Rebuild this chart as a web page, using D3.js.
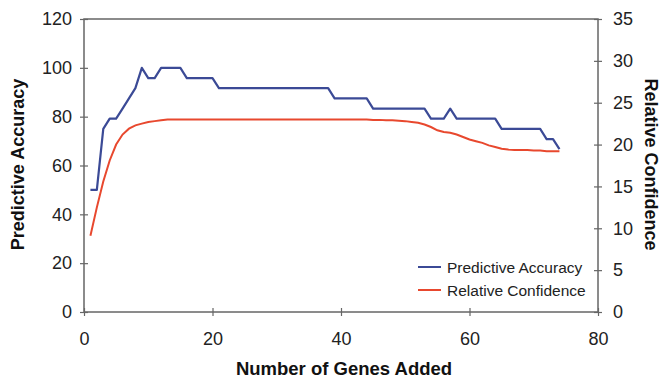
<!DOCTYPE html>
<html>
<head>
<meta charset="utf-8">
<script src="https://cdn.jsdelivr.net/npm/d3@7"></script>
<style>
  body { margin: 0; background: #fff; }
  svg { font-family: "Liberation Sans", Arial, sans-serif; }
</style>
</head>
<body>
<div id="chart"></div>
<script>
// data
var genes = [1,2,3,4,5,6,7,8,9,10,11,12,13,14,15,16,17,18,19,20,21,22,23,24,25,26,27,28,29,30,31,32,33,34,35,36,37,38,39,40,41,42,43,44,45,46,47,48,49,50,51,52,53,54,55,56,57,58,59,60,61,62,63,64,65,66,67,68,69,70,71,72,73,74];

var accuracy = [50,50,75,79.2,79.2,83.3,87.5,91.7,100,95.8,95.8,100,100,100,100,95.8,95.8,95.8,95.8,95.8,
  91.7,91.7,91.7,91.7,91.7,91.7,91.7,91.7,91.7,91.7,91.7,91.7,91.7,91.7,91.7,91.7,91.7,91.7,
  87.5,87.5,87.5,87.5,87.5,87.5,
  83.3,83.3,83.3,83.3,83.3,83.3,83.3,83.3,83.3,
  79.2,79.2,79.2,83.3,79.2,79.2,79.2,79.2,79.2,79.2,79.2,
  75,75,75,75,75,75,75,70.8,70.8,66.7];

var confidence = [9.1,12.5,15.6,18.1,20.0,21.2,21.9,22.3,22.5,22.7,22.8,22.9,
  23,23,23,23,23,23,23,23,23,23,23,23,23,23,23,23,23,23,23,23,23,23,23,23,23,23,23,23,23,23,23,23,
  22.95,22.95,22.9,22.9,22.85,22.8,22.7,22.6,22.4,22.1,21.7,21.5,21.4,21.2,20.9,20.6,20.4,20.2,19.9,19.7,
  19.5,19.4,19.35,19.35,19.35,19.3,19.3,19.2,19.2,19.2];

var xTicks = [0,20,40,60,80];
var leftTicks = [0,20,40,60,80,100,120];
var rightTicks = [0,5,10,15,20,25,30,35];
var seriesNames = ["Predictive Accuracy", "Relative Confidence"];

var width = 665, height = 380;
var margin = {left: 84, right: 67, top: 19, bottom: 68};
var blue = "#3b4a96", red = "#e8482e", axisCol = "#666";

var svg = d3.select("#chart").append("svg")
  .attr("width", width)
  .attr("height", height);

var x = d3.scaleLinear().domain([0, 80]).range([margin.left, width - margin.right]);
var yL = d3.scaleLinear().domain([0, 120]).range([height - margin.bottom, margin.top]);
var yR = d3.scaleLinear().domain([0, 35]).range([height - margin.bottom, margin.top]);

// frame
svg.append("rect")
  .attr("x", x(0)).attr("y", yL(120))
  .attr("width", x(80) - x(0)).attr("height", yL(0) - yL(120))
  .attr("fill", "none").attr("stroke", axisCol).attr("stroke-width", 1.5);

// axes
var xAxis = svg.append("g")
  .attr("transform", "translate(0," + yL(0) + ")")
  .call(d3.axisBottom(x).tickValues(xTicks).tickSize(4).tickPadding(16));
var leftAxis = svg.append("g")
  .attr("transform", "translate(" + x(0) + ",0)")
  .call(d3.axisLeft(yL).tickValues(leftTicks).tickSize(4).tickPadding(8));
var rightAxis = svg.append("g")
  .attr("transform", "translate(" + x(80) + ",0)")
  .call(d3.axisRight(yR).tickValues(rightTicks).tickSize(4).tickPadding(11));

[xAxis, leftAxis, rightAxis].forEach(function(a) {
  a.select(".domain").remove();
  a.selectAll(".tick line").attr("stroke", axisCol).attr("stroke-width", 1.2);
  a.selectAll(".tick text").attr("font-size", 18).attr("fill", "#222")
    .attr("font-family", "Liberation Sans, Arial, sans-serif");
});
// ticks cross the axis lines
xAxis.selectAll(".tick line").attr("y1", -4);
leftAxis.selectAll(".tick line").attr("x1", 4);
rightAxis.selectAll(".tick line").attr("x1", -4);

// lines
var lineL = d3.line().x(function(d, i) { return x(genes[i]); }).y(function(d) { return yL(d); });
var lineR = d3.line().x(function(d, i) { return x(genes[i]); }).y(function(d) { return yR(d); });

svg.append("path").datum(confidence)
  .attr("d", lineR).attr("fill", "none")
  .attr("stroke", red).attr("stroke-width", 2);
svg.append("path").datum(accuracy)
  .attr("d", lineL).attr("fill", "none")
  .attr("stroke", blue).attr("stroke-width", 2.2).attr("stroke-linejoin", "round");

// axis titles
svg.append("text")
  .attr("x", 344).attr("y", 375)
  .attr("text-anchor", "middle")
  .attr("font-size", 18.5).attr("font-weight", "bold").attr("fill", "#111")
  .text("Number of Genes Added");
svg.append("text")
  .attr("transform", "translate(24," + (yL(60) - 1) + ") rotate(-90)")
  .attr("text-anchor", "middle")
  .attr("font-size", 18).attr("font-weight", "bold").attr("fill", "#111")
  .text("Predictive Accuracy");
svg.append("text")
  .attr("transform", "translate(645," + (yL(60) - 1) + ") rotate(90)")
  .attr("text-anchor", "middle")
  .attr("font-size", 18).attr("font-weight", "bold").attr("fill", "#111")
  .text("Relative Confidence");

// legend
var legend = svg.selectAll(".legend").data(seriesNames).enter()
  .append("g").attr("class", "legend")
  .attr("transform", function(d, i) { return "translate(418," + (267 + i * 23) + ")"; });
legend.append("line")
  .attr("x1", 0).attr("x2", 23).attr("y1", 0).attr("y2", 0)
  .attr("stroke", function(d, i) { return i == 0 ? blue : red; })
  .attr("stroke-width", 2);
legend.append("text")
  .attr("x", 29).attr("y", 5.5)
  .attr("font-size", 15.5).attr("fill", "#222")
  .text(function(d) { return d; });
</script>
</body>
</html>
